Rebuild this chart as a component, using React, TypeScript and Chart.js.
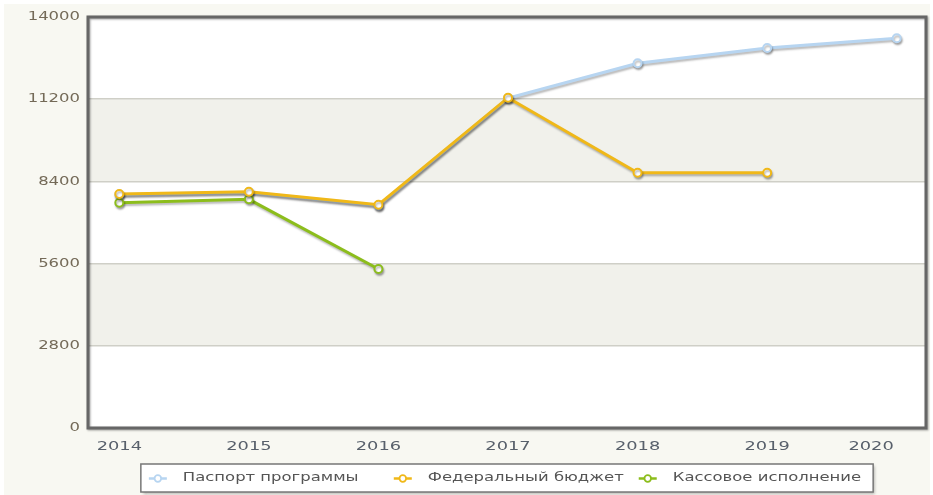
import React, { useEffect, useRef } from "react";
import { Chart, registerables } from "chart.js";

Chart.register(...registerables);

const years = [2014, 2015, 2016, 2017, 2018, 2019, 2020];
const seriesLabels = ["Паспорт программы", "Федеральный бюджет", "Кассовое исполнение"];
const passport = [7950, 8030, 7580, 11240, 12423, 12944, 13275];
const federal: (number | null)[] = [7970, 8049, 7606, 11251, 8697, 8697, null];
const cash: (number | null)[] = [7675, 7790, 5416, null, null, null, null];
const yTicks = [0, 2800, 5600, 8400, 11200, 14000];
const colors = ["#b7d5f1", "#f0b818", "#8cbd1c"];
const orders = [2, 0, 1];

const FONT = "'DejaVu Sans', Verdana, sans-serif";
const SX = 1.37; // horizontal stretch of the reference's text

function toPoints(vals: (number | null)[]) {
  const out: { x: number; y: number }[] = [];
  vals.forEach((v, i) => {
    if (v !== null) out.push({ x: years[i], y: v });
  });
  return out;
}

function stretchedText(ctx: CanvasRenderingContext2D, s: string, x: number, y: number, align: CanvasTextAlign) {
  ctx.save();
  ctx.translate(x, y);
  ctx.scale(SX, 1);
  ctx.textAlign = align;
  ctx.textBaseline = "middle";
  ctx.fillText(s, 0, 0);
  ctx.restore();
}

const decorPlugin = {
  id: "decor",
  beforeDraw(chart: any) {
    const ctx = chart.ctx;
    const { left, right, top, bottom } = chart.chartArea;
    const y = chart.scales.y;
    ctx.save();
    ctx.fillStyle = "#ffffff";
    ctx.fillRect(0, 0, chart.width, chart.height);
    ctx.fillStyle = "#f8f8f2";
    ctx.fillRect(4, 4, chart.width - 7, chart.height - 4);
    ctx.fillStyle = "#ffffff";
    ctx.fillRect(left, top, right - left, bottom - top);
    ctx.fillStyle = "#f1f1eb";
    for (let i = 1; i < yTicks.length - 1; i += 2) {
      const y0 = y.getPixelForValue(yTicks[i]);
      const y1 = y.getPixelForValue(yTicks[i + 1]);
      ctx.fillRect(left, y1, right - left, y0 - y1);
    }
    ctx.restore();
  },
  beforeDatasetsDraw(chart: any) {
    const ctx = chart.ctx;
    ctx.save();
    ctx.shadowColor = "rgba(0,0,0,0.28)";
    ctx.shadowOffsetX = 1;
    ctx.shadowOffsetY = 2;
    ctx.shadowBlur = 2;
  },
  afterDatasetsDraw(chart: any) {
    chart.ctx.restore();
  },
  afterDraw(chart: any) {
    const ctx = chart.ctx;
    const { left, right, top, bottom } = chart.chartArea;
    const xs = chart.scales.x;
    const ys = chart.scales.y;
    ctx.save();
    ctx.shadowColor = "rgba(0,0,0,0.35)";
    ctx.shadowOffsetX = 1;
    ctx.shadowOffsetY = 1;
    ctx.shadowBlur = 2;
    ctx.strokeStyle = "#666666";
    ctx.lineWidth = 3;
    ctx.strokeRect(left, top, right - left, bottom - top);
    ctx.restore();

    // y labels
    ctx.save();
    ctx.font = `12px ${FONT}`;
    ctx.fillStyle = "#746a58";
    yTicks.forEach((v) => {
      stretchedText(ctx, String(v), left - 8, ys.getPixelForValue(v), "right");
    });
    ctx.restore();

    // x labels
    ctx.save();
    ctx.font = `13px ${FONT}`;
    ctx.fillStyle = "#58606b";
    years.forEach((yr, i) => {
      const px = xs.getPixelForValue(yr);
      if (i === years.length - 1) {
        stretchedText(ctx, String(yr), px - 3, 446.5, "right");
      } else {
        stretchedText(ctx, String(yr), px, 446.5, "center");
      }
    });
    ctx.restore();

    // legend
    ctx.save();
    ctx.font = `12px ${FONT}`;
    const widths = seriesLabels.map((s) => ctx.measureText(s).width * SX);
    const maxW = Math.max(...widths);
    const pitch = 25 + maxW + 24;
    const n = seriesLabels.length;
    const boxW = 17 + (n - 1) * pitch + 25 + widths[n - 1] + 12;
    const cx = (left + right) / 2;
    const boxL = cx - boxW / 2;
    const boxT = 464;
    const boxH = 28;
    ctx.save();
    ctx.shadowColor = "rgba(0,0,0,0.3)";
    ctx.shadowOffsetX = 2;
    ctx.shadowOffsetY = 2;
    ctx.shadowBlur = 3;
    ctx.fillStyle = "#ffffff";
    ctx.fillRect(boxL, boxT, boxW, boxH);
    ctx.restore();
    ctx.strokeStyle = "#777777";
    ctx.lineWidth = 1.5;
    ctx.strokeRect(boxL, boxT, boxW, boxH);
    const my = boxT + boxH / 2 + 0.5;
    seriesLabels.forEach((s, i) => {
      const m = boxL + 17 + i * pitch;
      ctx.strokeStyle = colors[i];
      ctx.lineWidth = 2.5;
      ctx.beginPath();
      ctx.moveTo(m - 9, my);
      ctx.lineTo(m + 9, my);
      ctx.stroke();
      ctx.beginPath();
      ctx.arc(m, my, 3.3, 0, Math.PI * 2);
      ctx.fillStyle = "#ffffff";
      ctx.fill();
      ctx.lineWidth = 1.8;
      ctx.stroke();
      ctx.fillStyle = "#555555";
      stretchedText(ctx, s, m + 25, my - 0.5, "left");
    });
    ctx.restore();
  },
};

export default function App() {
  const ref = useRef<HTMLCanvasElement | null>(null);
  useEffect(() => {
    if (!ref.current) return;
    const all = [passport, federal, cash];
    const chart = new Chart(ref.current, {
      type: "line",
      data: {
        datasets: all.map((vals, i) => ({
          label: seriesLabels[i],
          data: toPoints(vals),
          borderColor: colors[i],
          backgroundColor: colors[i],
          borderWidth: 3,
          pointRadius: 4,
          pointBorderWidth: 2,
          pointBackgroundColor: "#ffffff",
          pointBorderColor: colors[i],
          tension: 0,
          fill: false,
          order: orders[i],
        })),
      },
      options: {
        animation: false,
        responsive: false,
        devicePixelRatio: 1,
        events: [],
        layout: { padding: { left: 0, right: 7, top: 17, bottom: 32 } },
        plugins: {
          legend: { display: false },
          tooltip: { enabled: false },
          title: { display: false },
        },
        scales: {
          x: {
            type: "linear",
            min: 2013.7584,
            max: 2020.2259,
            grid: { display: false },
            border: { display: false },
            ticks: { display: false },
            afterBuildTicks: (s: any) => {
              s.ticks = years.map((v) => ({ value: v }));
            },
            afterFit: (s: any) => {
              s.height = 35;
            },
          },
          y: {
            type: "linear",
            min: 0,
            max: 14000,
            border: { display: false },
            grid: {
              drawTicks: false,
              lineWidth: 1.5,
              color: (c: any) =>
                c.tick && (c.tick.value === 0 || c.tick.value === 14000)
                  ? "rgba(0,0,0,0)"
                  : "#cfcfc7",
            },
            ticks: { display: false },
            afterBuildTicks: (s: any) => {
              s.ticks = yTicks.map((v) => ({ value: v }));
            },
            afterFit: (s: any) => {
              s.width = 88;
            },
          },
        },
      },
      plugins: [decorPlugin],
    } as any);
    return () => chart.destroy();
  }, []);
  return (
    <div style={{ position: "absolute", left: 0, top: 0, width: 933, height: 495 }}>
      <canvas ref={ref} width={933} height={495} style={{ display: "block" }} />
    </div>
  );
}
